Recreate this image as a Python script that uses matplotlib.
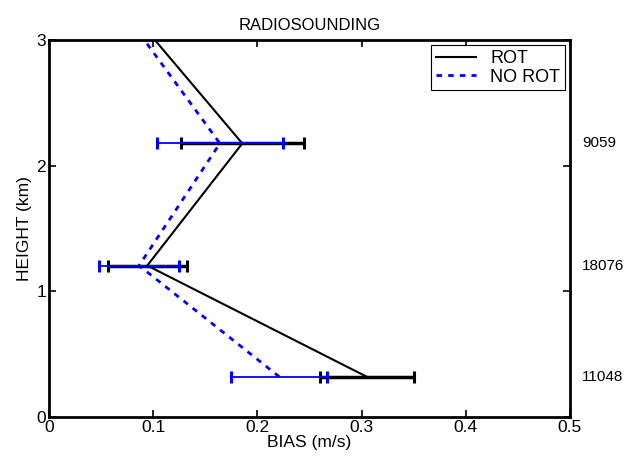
import matplotlib.pyplot as plt
from matplotlib.transforms import blended_transform_factory

# heights (km) of the layers, last one lies above the plotted range
height = [0.32, 1.205, 2.177, 3.3]
bias_rot = [0.305, 0.0943, 0.1855, 0.071]
bias_norot = [0.221, 0.0864, 0.164, 0.065]
err_rot = [0.045, 0.038, 0.059]
err_norot = [0.046, 0.038, 0.0605]
counts = ['11048', '18076', '9059']

plt.rcParams['font.family'] = ['Liberation Sans', 'DejaVu Sans']

fig = plt.figure(figsize=(6.39, 4.63), dpi=100)
ax = fig.add_axes([0.0767, 0.0994, 0.8153, 0.8142])

ax.plot(bias_rot, height, color='black', lw=1.5, label='ROT')
ax.plot(bias_norot, height, color='blue', lw=2, ls=(0, (2, 2.2)), label='NO ROT')

ax.errorbar(bias_rot[:3], height[:3], xerr=err_rot, fmt='none', ecolor='black',
            elinewidth=2.5, capsize=4, capthick=2.2)
ax.errorbar(bias_norot[:3], height[:3], xerr=err_norot, fmt='none', ecolor='blue',
            elinewidth=1.3, capsize=4, capthick=2.2)

trans = blended_transform_factory(ax.transAxes, ax.transData)
for h, c in zip(height[:3], counts):
    ax.text(1.023, h, c, transform=trans, fontsize=11, va='center', ha='left')

ax.set_xlim(0, 0.5)
ax.set_ylim(0, 3)
ax.set_xticks([0, 0.1, 0.2, 0.3, 0.4, 0.5])
ax.set_xticklabels(['0', '0.1', '0.2', '0.3', '0.4', '0.5'])
ax.set_yticks([0, 1, 2, 3])
ax.tick_params(direction='in', length=5, width=1.2, labelsize=12.5,
               top=True, right=True, pad=2)
for s in ax.spines.values():
    s.set_linewidth(2)

ax.set_title('RADIOSOUNDING', fontsize=12, pad=7)
ax.set_xlabel('BIAS (m/s)', fontsize=12.5, labelpad=0)
ax.set_ylabel('HEIGHT (km)', fontsize=12.5, labelpad=3)

leg = ax.legend(loc='upper right', fontsize=13, fancybox=False, framealpha=1,
                edgecolor='black', borderaxespad=0.3, handlelength=2.2,
                borderpad=0.25, labelspacing=0.1, handletextpad=0.8)
leg.get_frame().set_linewidth(0.8)

plt.savefig('out.png', dpi=100)
plt.close()
